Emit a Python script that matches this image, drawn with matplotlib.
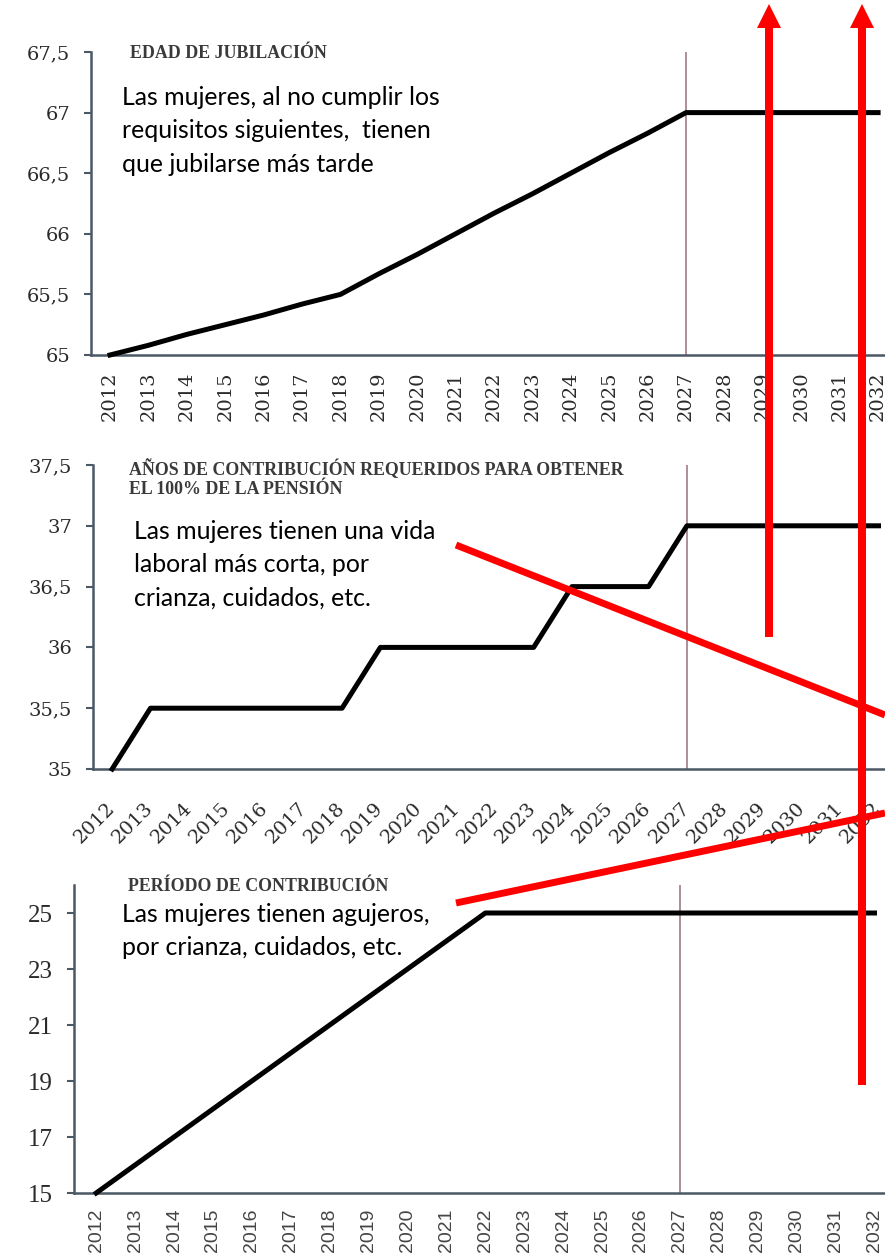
import matplotlib
matplotlib.use("Agg")
import matplotlib.pyplot as plt
from matplotlib.patches import FancyArrow
from matplotlib.transforms import ScaledTranslation

W, H = 885, 1259

# ---- data ----
years = list(range(2012, 2033))
edad = [65, 65.08, 65.17, 65.25, 65.33, 65.42, 65.5, 65.67, 65.83, 66.0, 66.17,
        66.33, 66.5, 66.67, 66.83, 67, 67, 67, 67, 67, 67]
anos = [35, 35.5, 35.5, 35.5, 35.5, 35.5, 35.5, 36, 36, 36, 36, 36,
        36.5, 36.5, 36.5, 37, 37, 37, 37, 37, 37]
periodo = [15, 16, 17, 18, 19, 20, 21, 22, 23, 24, 25,
           25, 25, 25, 25, 25, 25, 25, 25, 25, 25]
marker_year = 2027

yt1 = [65, 65.5, 66, 66.5, 67, 67.5]
yt1_lab = ["65", "65,5", "66", "66,5", "67", "67,5"]
yt2 = [35, 35.5, 36, 36.5, 37, 37.5]
yt2_lab = ["35", "35,5", "36", "36,5", "37", "37,5"]
yt3 = [15, 17, 19, 21, 23, 25]
yt3_lab = ["15", "17", "19", "21", "23", "25"]

title1 = "EDAD DE JUBILACIÓN"
title2 = "AÑOS DE CONTRIBUCIÓN REQUERIDOS PARA OBTENER\nEL 100% DE LA PENSIÓN"
title3 = "PERÍODO DE CONTRIBUCIÓN"
note1 = "Las mujeres, al no cumplir los\nrequisitos siguientes,  tienen\nque jubilarse más tarde"
note2 = "Las mujeres tienen una vida\nlaboral más corta, por\ncrianza, cuidados, etc."
note3 = "Las mujeres tienen agujeros,\npor crianza, cuidados, etc."

fig = plt.figure(figsize=(W / 100, H / 100), dpi=100)
fig.patch.set_facecolor("white")


def add_ax(left, top, right, bottom):
    return fig.add_axes([left / W, 1 - bottom / H, (right - left) / W, (bottom - top) / H])


spine_c = "#4b5866"
tick_c = "#2a2a2a"
vline_c = "#a07c84"


def style(ax, ylim, xlim, yt, ytl, yfont, ysize, xfont, xsize, xrot, xcolor, xpad):
    ax.set_xlim(*xlim)
    ax.set_ylim(*ylim)
    for s in ["top", "right"]:
        ax.spines[s].set_visible(False)
    for s in ["left", "bottom"]:
        ax.spines[s].set_color(spine_c)
        ax.spines[s].set_linewidth(1.8)
    ax.set_yticks(yt)
    ax.set_yticklabels(ytl, fontfamily=yfont, fontsize=ysize, color=tick_c)
    ax.tick_params(axis="y", length=5, width=1.5, color=spine_c, pad=10)
    ax.set_xticks(years)
    if xrot == 45:
        labs = ax.set_xticklabels([str(y) for y in years], fontfamily=xfont, fontsize=xsize,
                                  color=xcolor, rotation=45, ha="right", va="center",
                                  rotation_mode="anchor")
        off = ScaledTranslation(9 / 100, 0, fig.dpi_scale_trans)
        for lab in labs:
            lab.set_transform(lab.get_transform() + off)
    else:
        ax.set_xticklabels([str(y) for y in years], fontfamily=xfont, fontsize=xsize,
                           color=xcolor, rotation=90, ha="center", va="top")
    ax.tick_params(axis="x", length=0, pad=xpad)
    ax.axvline(marker_year, color=vline_c, lw=1.2, zorder=1)
    ax.set_facecolor("none")


ax1 = add_ax(91, 52, 885, 355)
ax1.plot(years, edad, color="black", lw=3.6, zorder=3, clip_on=False)
style(ax1, (65, 67.5), (2011.505, 2032.18), yt1, yt1_lab, "DejaVu Serif", 14,
      "DejaVu Serif", 14, 90, tick_c, 12)

ax2 = add_ax(93, 465, 885, 769)
ax2.plot(years, anos, color="black", lw=3.6, zorder=3, clip_on=False)
style(ax2, (35, 37.5), (2011.5, 2032.17), yt2, yt2_lab, "DejaVu Serif", 14,
      "DejaVu Serif", 14, 45, tick_c, 26)

ax3 = add_ax(74, 885, 885, 1193)
ax3.plot(years, periodo, color="black", lw=3.6, zorder=3, clip_on=False)
style(ax3, (15, 26), (2011.43, 2032.27), yt3, yt3_lab, "Liberation Serif", 18,
      "Liberation Sans", 14, 90, "#454545", 11)


def ftext(x, y, s, **kw):
    fig.text(x / W, 1 - y / H, s, **kw)


tkw = dict(fontfamily="Liberation Serif", fontweight="bold", fontsize=12.9,
           color="#3a3a3a", va="top", ha="left", linespacing=1.2)
ftext(130, 45, title1, **tkw)
ftext(129, 459, title2, **tkw)
ftext(128, 878, title3, **tkw)

nkw = dict(fontfamily="Lato", fontsize=17.9, color="black", va="top", ha="left",
           linespacing=1.55)
ftext(122, 86, note1, **nkw)
ftext(134, 520, note2, **nkw)
ftext(122, 903, note3, **nkw)

# ---- red overlay annotations (pixel coordinates) ----
ov = fig.add_axes([0, 0, 1, 1], zorder=10)
ov.set_xlim(0, W)
ov.set_ylim(H, 0)
ov.axis("off")
ov.patch.set_alpha(0)

ov.plot([456, 885], [545, 715], color="red", lw=5, solid_capstyle="butt")
ov.plot([456, 885], [903, 813], color="red", lw=5, solid_capstyle="butt")
ov.add_patch(FancyArrow(769, 637, 0, -633, width=8, head_width=24, head_length=24,
                        length_includes_head=True, color="red", lw=0))
ov.add_patch(FancyArrow(862, 1085, 0, -1081, width=8, head_width=24, head_length=24,
                        length_includes_head=True, color="red", lw=0))

fig.savefig("out.png", dpi=100, facecolor="white")
